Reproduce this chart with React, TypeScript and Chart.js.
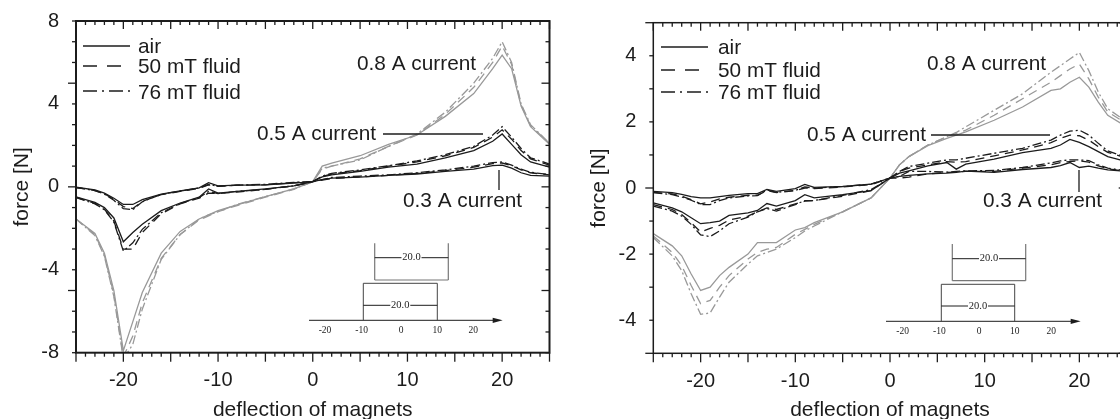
import React, { useEffect, useRef } from "react";
import { Chart, registerables } from "chart.js";

Chart.register(...registerables);

const leftX = [-25,-23,-22,-21,-20,-19,-18,-16,-14,-12,-11,-10,-8,-5,-2,0,1,2,5,8,11,14,17,19,20,21,22,23,25];
const left03Air = [-0.02,-0.15,-0.3,-0.55,-0.85,-0.85,-0.62,-0.35,-0.2,-0.05,0.2,0.05,0.08,0.1,0.18,0.25,0.35,0.42,0.47,0.55,0.62,0.75,0.85,1.02,1.05,0.9,0.68,0.55,0.52];
const left03Mid = [-0.03,-0.18,-0.33,-0.6,-0.95,-1.05,-0.7,-0.38,-0.22,-0.07,0.1,0.03,0.08,0.1,0.2,0.25,0.32,0.4,0.48,0.55,0.65,0.78,0.95,1.12,1.15,1.02,0.82,0.68,0.58];
const left03High = [-0.03,-0.18,-0.35,-0.65,-1.05,-1.1,-0.72,-0.36,-0.2,-0.05,0.12,0.02,0.08,0.12,0.22,0.25,0.35,0.45,0.52,0.58,0.68,0.82,1.0,1.17,1.2,1.05,0.85,0.7,0.6];
const left05Air = [-0.48,-0.75,-1.0,-1.5,-2.65,-2.2,-1.8,-1.15,-0.78,-0.5,-0.1,-0.3,-0.22,-0.1,0.05,0.25,0.48,0.58,0.75,0.95,1.1,1.4,1.75,2.2,2.55,2.05,1.55,1.2,0.95];
const left05Mid = [-0.5,-0.8,-1.08,-1.65,-3.0,-3.0,-2.2,-1.3,-0.82,-0.55,-0.3,-0.33,-0.25,-0.12,0.05,0.25,0.5,0.62,0.78,1.0,1.2,1.5,1.9,2.4,2.75,2.3,1.75,1.35,1.05];
const left05High = [-0.52,-0.82,-1.1,-1.7,-3.1,-2.7,-2.05,-1.25,-0.8,-0.52,-0.22,-0.32,-0.22,-0.12,0.05,0.25,0.52,0.65,0.82,1.02,1.25,1.55,1.95,2.5,2.9,2.4,1.85,1.4,1.1];
const left08Air = [-1.55,-2.25,-3.2,-5.0,-7.9,-6.5,-5.1,-3.2,-2.15,-1.55,-1.35,-1.15,-0.87,-0.47,-0.1,0.25,1.0,1.15,1.5,2.05,2.5,3.4,4.5,5.7,6.35,5.7,3.9,2.9,2.05];
const left08Mid = [-1.55,-2.3,-3.3,-5.2,-8.2,-7.2,-5.6,-3.45,-2.3,-1.6,-1.4,-1.2,-0.9,-0.5,-0.12,0.25,0.85,1.0,1.35,1.95,2.5,3.5,4.8,6.0,6.8,5.9,3.95,2.95,2.1];
const left08High = [-1.55,-2.35,-3.35,-5.3,-8.3,-7.6,-5.9,-3.5,-2.3,-1.55,-1.35,-1.2,-0.85,-0.47,-0.1,0.25,0.9,1.0,1.3,1.95,2.55,3.6,5.0,6.2,7.0,6.0,4.0,3.0,2.1];

const rightX = [-25,-23,-22,-21,-20,-19,-18,-17,-15,-14,-13,-12,-10,-9,-8,-5,-2,0,1,2,4,6,7,8,11,14,17,18,19,20,21,22,23,25];
const right03Air = [-0.1,-0.14,-0.19,-0.26,-0.3,-0.3,-0.26,-0.22,-0.17,-0.17,-0.04,-0.1,-0.02,0.11,0.02,0.05,0.12,0.3,0.35,0.38,0.43,0.45,0.47,0.51,0.47,0.56,0.62,0.68,0.77,0.62,0.66,0.6,0.55,0.5];
const right03Mid = [-0.13,-0.18,-0.25,-0.35,-0.48,-0.42,-0.33,-0.28,-0.22,-0.22,-0.08,-0.14,-0.08,0,-0.02,0.03,0.1,0.3,0.3,0.33,0.43,0.47,0.48,0.5,0.5,0.6,0.7,0.77,0.8,0.82,0.78,0.67,0.58,0.5];
const right03High = [-0.14,-0.2,-0.27,-0.37,-0.5,-0.5,-0.38,-0.3,-0.24,-0.23,-0.06,-0.13,-0.07,0.03,0,0.04,0.12,0.3,0.35,0.5,0.5,0.48,0.5,0.52,0.53,0.62,0.76,0.82,0.85,0.85,0.83,0.7,0.6,0.52];
const right05Air = [-0.45,-0.6,-0.72,-0.9,-1.08,-1.05,-1.0,-0.83,-0.75,-0.68,-0.47,-0.55,-0.38,-0.2,-0.3,-0.2,-0.08,0.3,0.45,0.52,0.67,0.77,0.57,0.72,0.87,1.07,1.2,1.3,1.47,1.38,1.25,1.1,0.95,0.8];
const right05Mid = [-0.5,-0.65,-0.8,-1.05,-1.33,-1.22,-1.13,-0.97,-0.85,-0.72,-0.6,-0.65,-0.48,-0.4,-0.38,-0.25,-0.08,0.3,0.5,0.6,0.7,0.8,0.78,0.8,0.97,1.15,1.37,1.5,1.6,1.58,1.45,1.25,1.08,0.9];
const right05High = [-0.55,-0.7,-0.85,-1.1,-1.42,-1.47,-1.3,-1.08,-0.88,-0.72,-0.62,-0.7,-0.5,-0.38,-0.38,-0.22,-0.05,0.3,0.5,0.65,0.75,0.85,0.85,0.9,1.05,1.2,1.45,1.6,1.72,1.75,1.6,1.35,1.12,0.92];
const right08Air = [-1.38,-1.75,-2.05,-2.6,-3.1,-3.0,-2.65,-2.4,-2.0,-1.65,-1.65,-1.65,-1.27,-1.2,-1.05,-0.72,-0.3,0.3,0.7,0.95,1.28,1.5,1.6,1.7,2.05,2.45,2.95,3.0,3.2,3.35,3.05,2.6,2.2,1.85];
const right08Mid = [-1.45,-1.95,-2.35,-2.95,-3.5,-3.4,-3.0,-2.65,-2.15,-1.95,-1.85,-1.8,-1.4,-1.25,-1.1,-0.72,-0.3,0.3,0.7,0.95,1.3,1.55,1.65,1.75,2.2,2.7,3.2,3.4,3.6,3.75,3.3,2.75,2.3,1.95];
const right08High = [-1.5,-2.05,-2.5,-3.2,-3.82,-3.78,-3.3,-2.85,-2.3,-2.05,-1.95,-1.85,-1.5,-1.3,-1.15,-0.72,-0.3,0.3,0.7,0.95,1.3,1.55,1.68,1.85,2.35,2.85,3.5,3.7,3.9,4.1,3.55,2.9,2.4,2.0];

const media = ["air", "50 mT fluid", "76 mT fluid"];
const currents = ["0.3 A current", "0.5 A current", "0.8 A current"];
const schematicTicks = [-20, -10, 0, 10, 20];
const gapLabel = "20.0";
const xAxisLabel = "deflection of magnets";
const yAxisLabel = "force [N]";

const FONT = '"Liberation Sans", Arial, sans-serif';
const SERIF = '"Liberation Serif", "Times New Roman", serif';
const INK = "#1c1c1c";
const GREY = "#999999";
const dashes = [[], [9, 6], [9, 3, 2, 3]];
const legendDashes = [[], [14, 10], [14, 5, 2, 5]];

type Panel = {
  xs: number[]; rows: number[][][]; yMax: number; yStep: number; titlePad: number;
  width: number; plotLeft: number; plotRight: number; plotTop: number; plotBottom: number; frameW: number;
  legend: { x0: number; x1: number; tx: number; lineY: number[]; baseY: number[] };
  labels: { x: number; y: number }[];
  leaders: number[][];
  scheme: { ax0: number; ax1: number; ay: number; tickX: number[]; low: number[]; up: number[]; lowText: number; upText: number; lowDim: number; upDim: number; lowTop: number; upBottom: number; upTop: number };
};

const leftPanel: Panel = {
  xs: leftX,
  rows: [[left03Air, left03Mid, left03High], [left05Air, left05Mid, left05High], [left08Air, left08Mid, left08High]],
  yMax: 8, yStep: 4, titlePad: 9.5, width: 560, plotLeft: 76, plotRight: 549.5, plotTop: 21, plotBottom: 352.7, frameW: 2,
  legend: { x0: 83, x1: 130, tx: 138, lineY: [46, 66, 91], baseY: [53, 73, 99] },
  labels: [{ x: 403, y: 207 }, { x: 257, y: 140 }, { x: 357, y: 70 }],
  leaders: [[499, 170, 499, 190], [383, 134, 483, 134]],
  scheme: { ax0: 309, ax1: 502.7, ay: 320.3, tickX: [325, 361.7, 401, 437.3, 473.3], low: [363.3, 437.3], up: [374.7, 448.3], lowText: 400.3, upText: 411.5, lowDim: 305.3, upDim: 257.7, lowTop: 283.3, upBottom: 280, upTop: 243.3 },
};

const rightPanel: Panel = {
  xs: rightX,
  rows: [[right03Air, right03Mid, right03High], [right05Air, right05Mid, right05High], [right08Air, right08Mid, right08High]],
  yMax: 5, yStep: 2, titlePad: 26.5, width: 600, plotLeft: 93.3, plotRight: 566.7, plotTop: 22.7, plotBottom: 353.3, frameW: 1.5,
  legend: { x0: 101, x1: 148, tx: 158, lineY: [47, 70, 92], baseY: [54, 77, 99] },
  labels: [{ x: 423, y: 207 }, { x: 247, y: 140.5 }, { x: 367, y: 70 }],
  leaders: [[519, 170, 519, 192], [371, 135, 490, 135]],
  scheme: { ax0: 326, ax1: 520.7, ay: 321.3, tickX: [342.7, 379.3, 419, 454.7, 491.3], low: [381.3, 454.7], up: [392.3, 465.7], lowText: 418, upText: 429, lowDim: 306, upDim: 258.7, lowTop: 284.3, upBottom: 280.7, upTop: 244 },
};

function makeOverlay(p: Panel) {
  return {
    id: "overlay",
    afterDatasetsDraw(chart: any) {
      const ctx = chart.ctx as CanvasRenderingContext2D;
      const { left, right, top, bottom } = chart.chartArea;
      const xs = chart.scales.x;
      const ys = chart.scales.y;
      ctx.save();
      ctx.strokeStyle = INK;
      ctx.lineWidth = p.frameW;
      ctx.strokeRect(left, top, right - left, bottom - top);
      ctx.lineWidth = 1.3;
      const seg = (a: number, b: number, c: number, d: number) => { ctx.beginPath(); ctx.moveTo(a, b); ctx.lineTo(c, d); ctx.stroke(); };
      for (let v = -25; v <= 25; v++) {
        const x = xs.getPixelForValue(v);
        const major = v % 5 === 0;
        seg(x, bottom, x, bottom + (major ? 9 : 4));
        seg(x, top, x, top + (major ? 8 : 4));
      }
      for (const t of ys.ticks) {
        const y = ys.getPixelForValue(t.value);
        const major = t.value % 5 === 0;
        seg(left, y, left - (major ? 8 : 4), y);
        seg(right, y, right - (major ? 8 : 4), y);
      }

      ctx.fillStyle = INK;
      ctx.textBaseline = "alphabetic";
      ctx.textAlign = "left";
      ctx.font = `20.8px ${FONT}`;
      media.forEach((m, i) => {
        ctx.setLineDash(legendDashes[i]);
        ctx.lineWidth = 1.3;
        seg(p.legend.x0, p.legend.lineY[i], p.legend.x1, p.legend.lineY[i]);
        ctx.setLineDash([]);
        ctx.fillText(m, p.legend.tx, p.legend.baseY[i]);
      });
      currents.forEach((c, i) => ctx.fillText(c, p.labels[i].x, p.labels[i].y));
      p.leaders.forEach((l) => seg(l[0], l[1], l[2], l[3]));

      const s = p.scheme;
      ctx.lineWidth = 1;
      seg(s.ax0, s.ay, s.ax1 - 8, s.ay);
      ctx.beginPath();
      ctx.moveTo(s.ax1, s.ay);
      ctx.lineTo(s.ax1 - 10, s.ay - 2.6);
      ctx.lineTo(s.ax1 - 10, s.ay + 2.6);
      ctx.closePath();
      ctx.fill();
      ctx.font = `9.5px ${SERIF}`;
      ctx.textAlign = "center";
      ctx.textBaseline = "middle";
      schematicTicks.forEach((t, i) => ctx.fillText(String(t), s.tickX[i], s.ay + 10));

      ctx.strokeStyle = "#444444";
      seg(s.low[0], s.ay, s.low[0], s.lowTop);
      seg(s.low[0], s.lowTop, s.low[1], s.lowTop);
      seg(s.low[1], s.lowTop, s.low[1], s.ay);
      ctx.strokeStyle = "#777777";
      ctx.lineWidth = 1.2;
      seg(s.up[0], s.upTop, s.up[0], s.upBottom);
      seg(s.up[0], s.upBottom, s.up[1], s.upBottom);
      seg(s.up[1], s.upBottom, s.up[1], s.upTop);

      ctx.strokeStyle = INK;
      ctx.lineWidth = 1;
      ctx.font = `10.5px ${SERIF}`;
      const dim = (range: number[], y: number, cx: number) => {
        seg(range[0], y, cx - 10, y);
        seg(cx + 10, y, range[1], y);
        ctx.fillText(gapLabel, cx, y);
      };
      dim(s.low, s.lowDim, s.lowText);
      dim(s.up, s.upDim, s.upText);
      ctx.restore();
    },
  };
}

function PanelChart({ panel, left }: { panel: Panel; left: number }) {
  const ref = useRef<HTMLCanvasElement>(null);
  useEffect(() => {
    const datasets: any[] = [];
    panel.rows.forEach((row, r) => {
      row.forEach((values, m) => {
        datasets.push({
          label: `${currents[r]}, ${media[m]}`,
          data: panel.xs.map((x, i) => ({ x, y: values[i] })),
          borderColor: r === 2 ? GREY : INK,
          borderWidth: 1.3,
          borderDash: dashes[m],
          pointRadius: 0,
          tension: 0,
          fill: false,
        });
      });
    });
    const chart = new Chart(ref.current as HTMLCanvasElement, {
      type: "line",
      data: { datasets },
      plugins: [makeOverlay(panel)],
      options: {
        animation: false,
        responsive: false,
        devicePixelRatio: 1,
        layout: { padding: { left: 0, top: panel.plotTop, right: panel.width - panel.plotRight, bottom: 0 } },
        plugins: { legend: { display: false }, tooltip: { enabled: false }, title: { display: false } },
        scales: {
          x: {
            type: "linear", min: -25, max: 25,
            grid: { display: false, drawTicks: false },
            border: { display: false },
            afterBuildTicks: (s: any) => { s.ticks = [-20, -10, 0, 10, 20].map((value) => ({ value })); },
            ticks: { autoSkip: false, maxRotation: 0, padding: 16, color: INK, font: { family: FONT, size: 20 }, callback: (v: any) => String(v) },
            title: { display: true, text: xAxisLabel, color: INK, font: { family: FONT, size: 21 }, padding: { top: 0, bottom: -4.3 } },
            afterFit: (s: any) => { s.height = 419 - panel.plotBottom; s.paddingLeft = 0; s.paddingRight = 0; },
          },
          y: {
            type: "linear", min: -panel.yMax, max: panel.yMax,
            grid: { display: false, drawTicks: false },
            border: { display: false },
            ticks: {
              stepSize: 1, autoSkip: false, padding: 17, color: INK, font: { family: FONT, size: 20 },
              callback: (v: any) => (Number(v) % panel.yStep === 0 ? String(v) : ""),
            },
            title: { display: true, text: yAxisLabel, color: INK, font: { family: FONT, size: 21 }, padding: { top: panel.titlePad, bottom: 0 } },
            afterFit: (s: any) => { s.width = panel.plotLeft; s.paddingTop = 0; s.paddingBottom = 0; },
          },
        },
      },
    } as any);
    return () => chart.destroy();
  }, [panel]);
  return <canvas ref={ref} width={panel.width} height={419} style={{ position: "absolute", left, top: 0, width: panel.width, height: 419 }} />;
}

export default function App() {
  return (
    <div style={{ position: "fixed", inset: 0, overflow: "hidden", background: "#fff" }}>
      <PanelChart panel={leftPanel} left={0} />
      <PanelChart panel={rightPanel} left={560} />
    </div>
  );
}
